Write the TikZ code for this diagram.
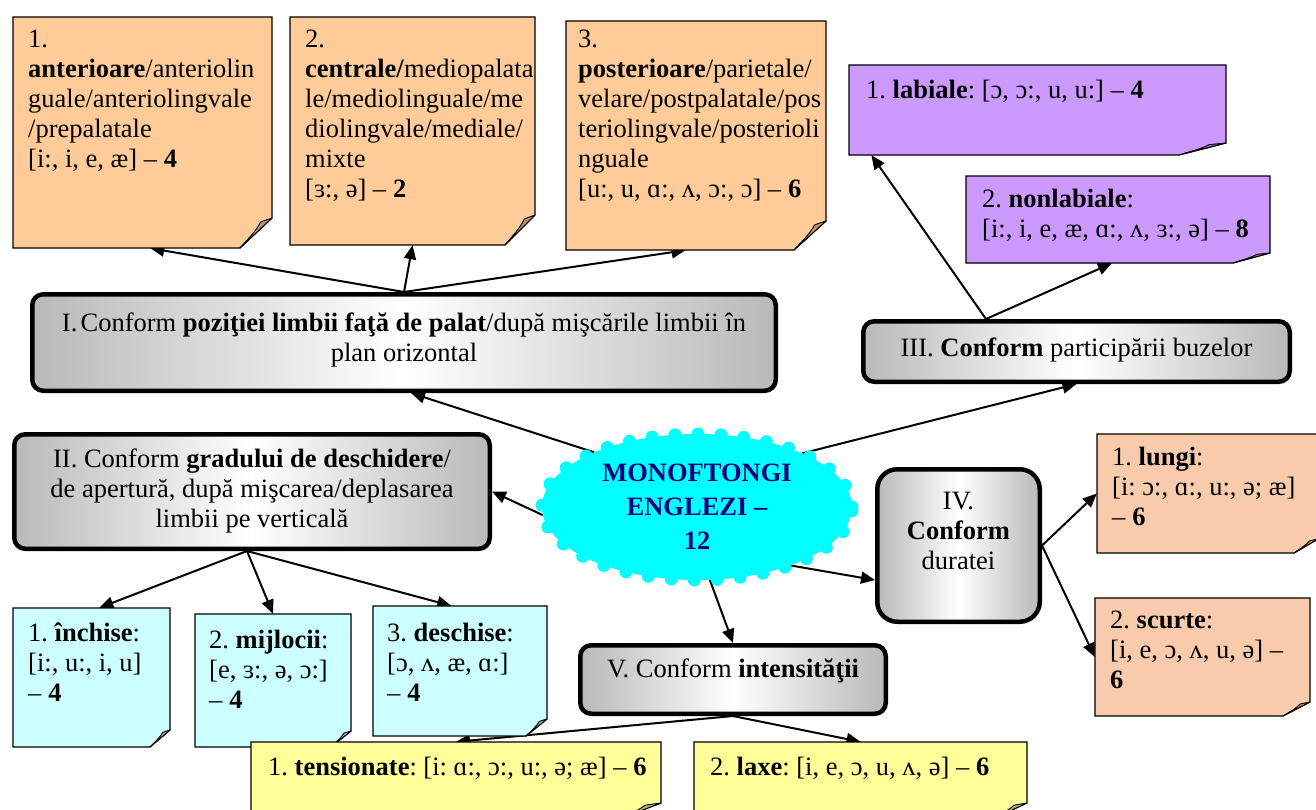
\documentclass[tikz,border=0pt]{standalone}
\usepackage{fontspec}
\setmainfont{Liberation Serif}
\frenchspacing
\usetikzlibrary{arrows.meta,shapes.geometric,decorations.markings,fit,calc,backgrounds}
\definecolor{noteorange}{HTML}{FFCC99}
\definecolor{notepurple}{HTML}{CC99FF}
\definecolor{notecyan}{HTML}{CCFFFF}
\definecolor{notepeach}{HTML}{F8CBAD}
\definecolor{noteyellow}{HTML}{FFFF99}
\definecolor{navytext}{HTML}{000080}
\definecolor{cyanfill}{HTML}{00FFFF}
% name, x1, y1, x2, y2, fill, fold width, fold height
\newcommand\foldnote[8]{%
  \path (#2,#3) coordinate (#1-a) (#4,#5) coordinate (#1-b);
  \node[fit=(#1-a)(#1-b), inner sep=0pt] (#1) {};
  \filldraw[fill=#6, draw=black, line width=1.2pt, line join=miter]
    (#2,#3) -- (#4,#3) -- (#4,{#5-#8}) -- ({#4-#7},#5) -- (#2,#5) -- cycle;
  \filldraw[fill=#6!72!black, draw=black, line width=0.9pt, line join=round]
    (#4,{#5-#8}) .. controls ({#4-0.12*#7},{#5-0.95*#8}) and ({#4-0.25*#7},{#5-0.92*#8}) ..
    ({#4-0.36*#7},{#5-0.86*#8}) .. controls ({#4-0.5*#7},{#5-0.55*#8}) and ({#4-0.8*#7},{#5-0.25*#8}) ..
    ({#4-#7},#5) -- cycle;
}
\begin{document}
\begin{tikzpicture}[x=1pt,y=-1pt,
  every node/.style={font=\fontsize{26.5}{30}\selectfont, inner sep=0pt},
  graybox/.style={draw=black, line width=4.5pt, rounded corners=11pt,
    left color=gray!55, right color=gray!55, middle color=white},
  notetext/.style={align=left, anchor=north west, execute at begin node=\strut},
  boxtext/.style={align=center},
  conn/.style={line width=2pt, -{Triangle[length=14pt,width=12pt]}},
  bumps/.style={decoration={markings,
    mark=between positions 0 and 1 step 23pt with {\fill[cyanfill] (0,0) circle (6.5pt);}}}]
\useasboundingbox (0,0) rectangle (1316,809);
\begin{scope}[on background layer]
  \fill[white] (0,0) rectangle (1316,809);
\end{scope}

% top notes
\foldnote{n1}{13}{17}{272}{248}{noteorange}{32}{30}
\node[notetext] (n1t) at (28,30) {1.\\\textbf{anterioare}/anteriolin\\guale/anteriolingvale\\/prepalatale\\{}[i:, i, e, æ] – \textbf{4}};
\foldnote{n2}{290}{17}{535}{245}{noteorange}{30}{30}
\node[notetext] (n2t) at (305,30) {2.\\\textbf{centrale/}mediopalata\\le/mediolinguale/me\\diolingvale/mediale/\\mixte\\{}[ɜ:, ə] – \textbf{2}};
\foldnote{n3}{566}{21}{826}{250}{noteorange}{32}{29}
\node[notetext] (n3t) at (578,30) {3.\\\textbf{posterioare}/parietale/\\velare/postpalatale/pos\\teriolingvale/posterioli\\nguale\\{}[u:, u, ɑ:, ʌ, ɔ:, ɔ] – \textbf{6}};

% purple notes
\foldnote{p1}{849}{65}{1226}{155}{notepurple}{47}{12}
\node[notetext] (p1t) at (866,77) {1. \textbf{labiale}: [ɔ, ɔ:, u, u:] – \textbf{4}};
\foldnote{p2}{966}{176}{1270}{263}{notepurple}{37}{10}
\node[notetext] (p2t) at (982,189) {2. \textbf{nonlabiale}:\\{}[i:, i, e, æ, ɑ:, ʌ, ɜ:, ə] – \textbf{8}};

% right notes
\foldnote{lg}{1097}{434}{1318}{553}{notepeach}{24}{14}
\node[notetext] (lgt) at (1112,447) {1. \textbf{lungi}:\\{}[i: ɔ:, ɑ:, u:, ə; æ]\\– \textbf{6}};
\foldnote{sc}{1095}{598}{1310}{716}{notepeach}{27}{14}
\node[notetext] (sct) at (1110,611) {2. \textbf{scurte}:\\{}[i, e, ɔ, ʌ, u, ə] –\\\textbf{6}};

% cyan notes
\foldnote{c1}{13}{608}{170}{747}{notecyan}{20}{17}
\node[notetext] (c1t) at (28,623) {1. \textbf{închise}:\\{}[i:, u:, i, u]\\– \textbf{4}};
\foldnote{c2}{195}{614}{351}{747}{notecyan}{20}{16}
\node[notetext] (c2t) at (209,630) {2. \textbf{mijlocii}:\\{}[e, ɜ:, ə, ɔ:]\\– \textbf{4}};
\foldnote{c3}{373}{606}{547}{736}{notecyan}{21}{17}
\node[notetext] (c3t) at (387,623) {3. \textbf{deschise}:\\{}[ɔ, ʌ, æ, ɑ:]\\– \textbf{4}};

% yellow notes
\foldnote{t1}{251}{742}{661}{820}{noteyellow}{45}{17}
\node[notetext] (t1t) at (268,754) {1. \textbf{tensionate}: [i: ɑ:, ɔ:, u:, ə; æ] – \textbf{6}};
\foldnote{t2}{694}{742}{1027}{820}{noteyellow}{37}{17}
\node[notetext] (t2t) at (710,754) {2. \textbf{laxe}: [i, e, ɔ, u, ʌ, ə] – \textbf{6}};

% gray boxes
\node[graybox, minimum width=743.5pt, minimum height=96.5pt] (b1) at (404,342.5) {};
\node[boxtext] (b1t) at (404,340) {I.\hspace{0.12em}Conform \textbf{poziţiei limbii faţă de palat}/după mişcările limbii în\\plan orizontal};
\node[graybox, minimum width=475.5pt, minimum height=114.5pt] (b2) at (252,491.5) {};
\node[boxtext] (b2t) at (252,491) {II. Conform \textbf{gradului de deschidere}/\\de apertură, după mişcarea/deplasarea\\limbii pe verticală};
\node[graybox, minimum width=426.5pt, minimum height=60.5pt] (b3) at (1076.5,351.5) {};
\node[boxtext] (b3t) at (1076.5,350) {III. \textbf{Conform} participării buzelor};
\node[graybox, rounded corners=20pt, minimum width=162.5pt, minimum height=152.5pt] (b4) at (958.5,545.5) {};
\node[boxtext] (b4t) at (958.5,531) {IV.\\\textbf{Conform}\\duratei};
\node[graybox, minimum width=305.5pt, minimum height=68.5pt] (b5) at (733,679.5) {};
\node[boxtext] (b5t) at (733,671) {V. Conform \textbf{intensităţii}};

% central ellipse
\node[ellipse, fill=cyanfill, minimum width=310pt, minimum height=146pt, bumps,
  postaction={decorate}, align=center, text=navytext,
  font=\fontsize{26.5}{34}\selectfont\bfseries] (E) at (697,507) {MONOFTONGI\\ENGLEZI –\\12};

% connectors
\begin{scope}[on background layer]
  \draw[conn] (b1.north) -- ($(n1.south west)!0.53!(n1.south east)$);
  \draw[conn] (b1.north) -- (n2.south);
  \draw[conn] (b1.north) -- ($(n3.south west)!0.46!(n3.south east)$);
  \draw[conn] (E.152) -- ($(b1.south)+(7,0)$);
  \draw[conn] (E.183) -- (b2.east);
  \draw[conn] (E.27) -- (b3.south);
  \draw[conn] ($(b3.north west)!0.29!(b3.north east)$) -- ($(p1.south west)!0.06!(p1.south east)$);
  \draw[conn] ($(b3.north west)!0.29!(b3.north east)$) -- ($(p2.south west)!0.48!(p2.south east)$);
  \draw[conn] (E.-32) -- ($(b4.south west)!0.28!(b4.north west)$);
  \draw[conn] (b4.east) -- (lg.west);
  \draw[conn] (b4.east) -- (sc.west);
  \draw[conn] (E.-80) -- (b5.north);
  \draw[conn] (b5.south) -- (t1.north);
  \draw[conn] (b5.south) -- (t2.north);
  \draw[conn] ($(b2.south)+(-5,0)$) -- ($(c1.north west)!0.55!(c1.north east)$);
  \draw[conn] ($(b2.south)+(-5,0)$) -- (c2.north);
  \draw[conn] ($(b2.south)+(-5,0)$) -- ($(c3.north west)!0.45!(c3.north east)$);
\end{scope}
\end{tikzpicture}
\end{document}
